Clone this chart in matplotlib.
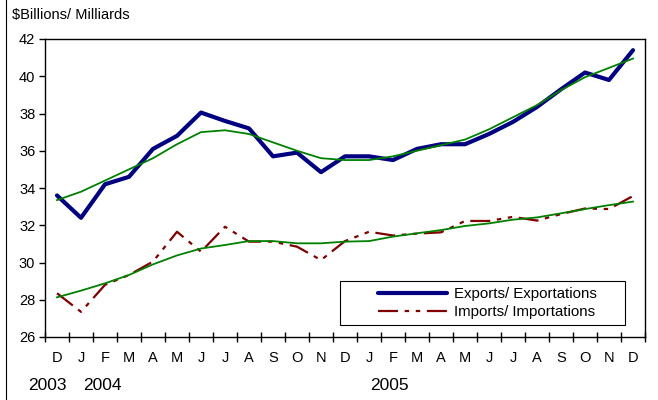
import matplotlib
matplotlib.use("Agg")
import matplotlib.pyplot as plt
from matplotlib.lines import Line2D
from matplotlib.patches import Rectangle

plt.rcParams['font.family'] = ['Liberation Sans', 'DejaVu Sans']

# months Dec 2003 .. Dec 2005
months = ['D', 'J', 'F', 'M', 'A', 'M', 'J', 'J', 'A', 'S', 'O', 'N',
          'D', 'J', 'F', 'M', 'A', 'M', 'J', 'J', 'A', 'S', 'O', 'N', 'D']

exports = [33.6, 32.4, 34.2, 34.6, 36.1, 36.8, 38.05, 37.6, 37.2, 35.7, 35.9, 34.85,
           35.7, 35.7, 35.5, 36.1, 36.35, 36.35, 36.9, 37.55, 38.35, 39.3, 40.2, 39.8, 41.4]
exports_trend = [33.35, 33.8, 34.4, 35.0, 35.6, 36.35, 37.0, 37.1, 36.9, 36.45, 36.0, 35.6,
                 35.5, 35.5, 35.7, 36.0, 36.3, 36.6, 37.15, 37.8, 38.45, 39.25, 39.95, 40.45, 40.95]

imports = [28.35, 27.35, 28.8, 29.33, 30.05, 31.65, 30.58, 31.92, 31.12, 31.12, 30.85, 30.13,
           31.15, 31.65, 31.45, 31.55, 31.62, 32.23, 32.23, 32.45, 32.25, 32.6, 32.9, 32.87, 33.57]
imports_trend = [28.13, 28.49, 28.88, 29.33, 29.9, 30.38, 30.75, 30.94, 31.15, 31.15, 31.03, 31.03,
                 31.12, 31.15, 31.39, 31.57, 31.74, 31.96, 32.1, 32.3, 32.42, 32.64, 32.87, 33.08, 33.27]

x = list(range(len(months)))

fig = plt.figure(figsize=(6.58, 4.0), dpi=100)
ax = fig.add_axes([45/658, 63/400, 600/658, 298/400])

ax.plot(x, exports, color='#000080', lw=3.0, solid_capstyle='round',
        label='Exports/ Exportations', zorder=3)
ax.plot(x, exports_trend, color='#008000', lw=1.3, zorder=4)
ax.plot(x, imports, color='#800000', lw=1.6, dashes=(9, 3, 2, 3, 2, 3),
        label='Imports/ Importations', zorder=3)
ax.plot(x, imports_trend, color='#008000', lw=1.3, zorder=4)

ax.set_xlim(-0.5, len(months) - 0.5)
ax.set_ylim(26, 42)
ax.set_yticks(range(26, 43, 2))

# ticks on category boundaries, labels in the middle
ax.set_xticks([i - 0.5 for i in range(len(months) + 1)])
ax.set_xticklabels([])
ax.set_xticks(x, minor=True)
ax.set_xticklabels(months, minor=True)
ax.tick_params(axis='x', which='major', direction='inout', length=7, width=1)
ax.tick_params(axis='x', which='minor', length=0, pad=10, labelsize=10.5)
ax.tick_params(axis='y', direction='out', length=4, width=1, labelsize=10.5, pad=3)

for s in ax.spines.values():
    s.set_linewidth(1.0)
    s.set_color('black')

# legend box drawn separately, entries sit towards its right side
box = Rectangle((295/600, 12/298), 285/600, 44/298, transform=ax.transAxes,
                facecolor='white', edgecolor='black', lw=0.8, zorder=5)
ax.add_patch(box)
leg = ax.legend(loc='center left', bbox_to_anchor=(333/600, 34/298), frameon=False,
                fontsize=10.8, handlelength=4.6, handletextpad=0.45, borderpad=0,
                labelspacing=0.3, borderaxespad=0)
leg.set_zorder(6)

fig.text(12/658, 1 - 15/400, r'\$Billions/ Milliards', fontsize=10.5, va='center', ha='left')
fig.text(28/658, 1 - 386/400, '2003', fontsize=12.5, va='center', ha='left')
fig.text(83/658, 1 - 386/400, '2004', fontsize=12.5, va='center', ha='left')
fig.text(370/658, 1 - 386/400, '2005', fontsize=12.5, va='center', ha='left')

fig.add_artist(Line2D([5.5/658, 5.5/658], [0, 1], color='black', lw=0.8))

fig.savefig('out.png', dpi=100)
